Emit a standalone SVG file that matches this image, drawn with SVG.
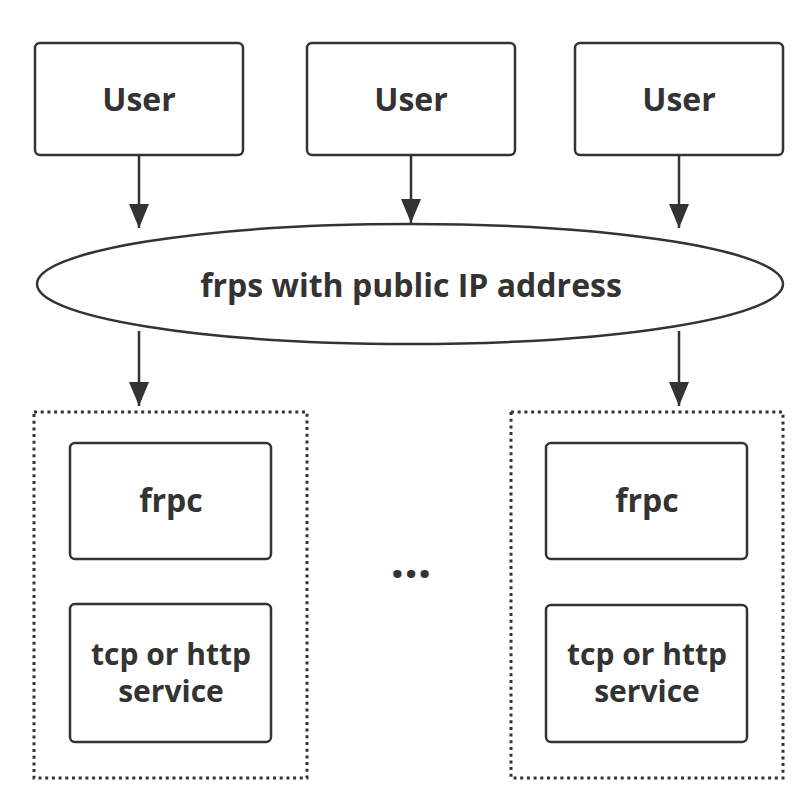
<svg xmlns="http://www.w3.org/2000/svg" width="808" height="798" viewBox="0 0 808 798">
<style>
.box{fill:#fff;stroke:#333;stroke-width:2.5}
.grp{fill:none;stroke:#333;stroke-width:3;stroke-dasharray:3 3.7}
.lbl{font-family:"Open Sans","Noto Sans",sans-serif;font-weight:bold;fill:#333;text-anchor:middle}
.edge{stroke:#333;stroke-width:2.5;fill:none}
</style>
<defs>
<marker id="arr" viewBox="0 0 24 20" refX="24" refY="10" markerWidth="24" markerHeight="20" markerUnits="userSpaceOnUse" orient="auto">
<path d="M0,0 L24,10 L0,20 z" fill="#333"/>
</marker>
</defs>
<rect width="808" height="798" fill="#fff"/>
<g id="connectors">
<line class="edge" x1="139" y1="155" x2="139" y2="228" marker-end="url(#arr)"/>
<line class="edge" x1="411" y1="155" x2="411" y2="223" marker-end="url(#arr)"/>
<line class="edge" x1="679" y1="155" x2="679" y2="228" marker-end="url(#arr)"/>
<line class="edge" x1="139" y1="331" x2="139" y2="406" marker-end="url(#arr)"/>
<line class="edge" x1="679" y1="331" x2="679" y2="406" marker-end="url(#arr)"/>
</g>
<g id="user1"><rect class="box" x="35" y="43" width="208" height="112" rx="5"/><text class="lbl" x="139" y="111" font-size="32">User</text></g>
<g id="user2"><rect class="box" x="307" y="43" width="208" height="112" rx="5"/><text class="lbl" x="411" y="111" font-size="32">User</text></g>
<g id="user3"><rect class="box" x="575" y="43" width="208" height="112" rx="5"/><text class="lbl" x="679" y="111" font-size="32">User</text></g>
<g id="frps"><ellipse class="box" cx="410" cy="284" rx="373" ry="60"/><text class="lbl" x="411" y="297" font-size="32">frps with public IP address</text></g>
<g id="group1"><rect class="grp" x="34" y="412" width="273" height="366"/></g>
<g id="frpc1"><rect class="box" x="70" y="443" width="201" height="116" rx="5"/><text class="lbl" x="171" y="512" font-size="32">frpc</text></g>
<g id="svc1"><rect class="box" x="70" y="604" width="201" height="138" rx="5"/><text class="lbl" x="171" y="665" font-size="30">tcp or http</text><text class="lbl" x="171" y="702" font-size="30">service</text></g>
<g id="group2"><rect class="grp" x="511" y="412" width="272" height="366"/></g>
<g id="frpc2"><rect class="box" x="546" y="443" width="201" height="116" rx="5"/><text class="lbl" x="647" y="512" font-size="32">frpc</text></g>
<g id="svc2"><rect class="box" x="546" y="605" width="201" height="137" rx="5"/><text class="lbl" x="647" y="665" font-size="30">tcp or http</text><text class="lbl" x="647" y="702" font-size="30">service</text></g>
<g id="ellipsis"><text class="lbl" x="411" y="578" font-size="48">...</text></g>
</svg>
